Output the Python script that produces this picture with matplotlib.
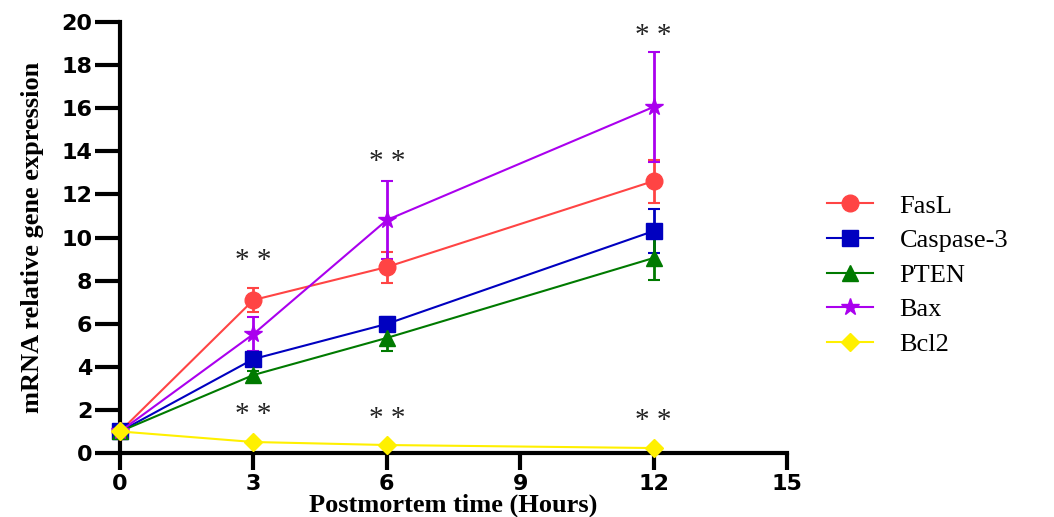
import numpy as np
import matplotlib.pyplot as plt

# data
hours = [0, 3, 6, 12]
genes = ["FasL", "Caspase-3", "PTEN", "Bax", "Bcl2"]

fasl = [1.0, 7.1, 8.63, 12.62]
fasl_err = [0.0, 0.55, 0.72, 1.0]
casp3 = [1.0, 4.36, 5.99, 10.3]
casp3_err = [0.0, 0.2, 0.3, 1.0]
pten = [1.0, 3.62, 5.34, 9.05]
pten_err = [0.0, 0.2, 0.6, 1.0]
bax = [1.0, 5.52, 10.81, 16.06]
bax_err = [0.0, 0.8, 1.8, 2.55]
bcl2 = [1.0, 0.51, 0.37, 0.23]
bcl2_err = [0.0, 0.0, 0.0, 0.0]

sig_hours = [3, 6, 12, 3, 6, 12]
sig_y = [8.9, 13.5, 19.35, 1.75, 1.6, 1.5]

#################################################
fig = plt.figure(figsize=(10.54, 5.17), dpi=100)
ax = fig.add_axes([0.1139, 0.1238, 0.6328, 0.8336])

series = [
    (fasl, fasl_err, "#FF4444", "o", 12),
    (casp3, casp3_err, "#0000C0", "s", 11),
    (pten, pten_err, "#007A00", "^", 11),
    (bax, bax_err, "#AA00EE", "*", 13),
    (bcl2, bcl2_err, "#FFF000", "D", 9),
]

for (vals, err, col, mk, ms), name in zip(series, genes):
    ax.errorbar(hours, vals, yerr=err, color=col, marker=mk, markersize=ms,
                linewidth=1.5, elinewidth=2, capsize=4, capthick=1.5,
                label=name, clip_on=False, zorder=3)

for h, y in zip(sig_hours, sig_y):
    ax.text(h, y, "* *", ha="center", va="center", fontsize=21,
            family="Liberation Serif", color="#222222")

# 横軸の設定
ax.set_xlim(0, 15)
ax.set_xticks(np.arange(0, 16, 3))
ax.set_xlabel("Postmortem time (Hours)", fontsize=19, fontweight="bold",
              family="Liberation Serif", labelpad=0)

# 縦軸の設定
ax.set_ylim(0, 20)
ax.set_yticks(np.arange(0, 21, 2))
ax.set_ylabel("mRNA relative gene expression", fontsize=19, fontweight="bold",
              family="Liberation Serif", labelpad=12)

for lab in ax.get_xticklabels() + ax.get_yticklabels():
    lab.set_fontweight("bold")
    lab.set_fontsize(16)
    lab.set_family("DejaVu Sans")

ax.tick_params(axis="x", direction="out", length=12, width=3, pad=3)
ax.tick_params(axis="y", direction="out", length=18, width=3, pad=2)
ax.spines["left"].set_linewidth(3)
ax.spines["bottom"].set_linewidth(3)
ax.spines["top"].set_visible(False)
ax.spines["right"].set_visible(False)

handles, labels = ax.get_legend_handles_labels()
handles = [h[0] for h in handles]
ax.legend(handles, labels, loc="center left", bbox_to_anchor=(0.762, 0.468),
          bbox_transform=fig.transFigure, frameon=False,
          prop={"family": "Liberation Serif", "size": 19},
          handlelength=1.75, labelspacing=0.42, handletextpad=1.0)

plt.savefig("out.png", dpi=100)
